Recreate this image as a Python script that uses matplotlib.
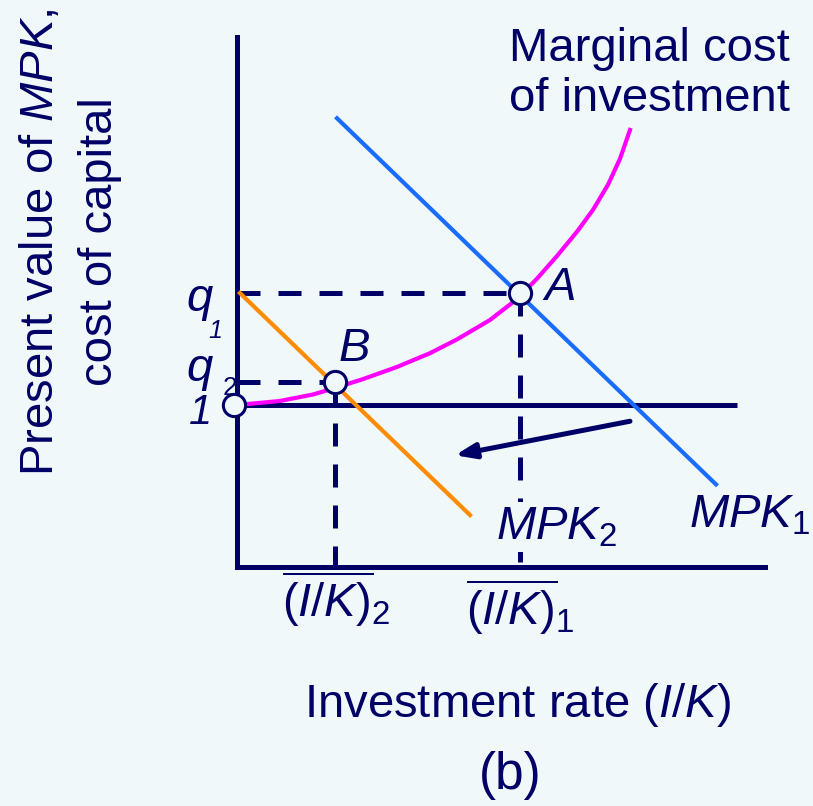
import matplotlib.pyplot as plt

plt.rcParams['font.family'] = ['Liberation Sans', 'DejaVu Sans']
plt.rcParams['mathtext.fontset'] = 'custom'
plt.rcParams['mathtext.rm'] = 'Liberation Sans'
plt.rcParams['mathtext.it'] = 'Liberation Sans:italic'

NAVY = '#000066'
BG = '#f0f8fa'

# data (investment rate I/K on x, value on y)
ik2, ik1 = 0.98, 2.83
q1, q2 = 1.69, 1.14
x_max, y_max = 5.28, 3.27
one_line_end = 5.0

mc_x = [0.0, 0.43, 0.76, 0.98, 1.26, 1.60, 1.93, 2.20, 2.53, 2.76, 2.84,
        3.00, 3.20, 3.40, 3.56, 3.71, 3.83, 3.93]
mc_y = [1.0, 1.025, 1.065, 1.105, 1.16, 1.235, 1.32, 1.405, 1.525, 1.635, 1.68,
        1.78, 1.92, 2.07, 2.205, 2.36, 2.52, 2.698]

mpk1_x = [1.00, 4.79]
mpk1_y = [2.77, 0.51]
mpk2_x = [0.03, 2.33]
mpk2_y = [1.691, 0.321]

shift_from = (3.93, 0.90)
shift_to = (2.18, 0.69)


def px(x, y):
    # pixel position on the 813x806 canvas -> data coords
    return ((x - 237) / 100, (567 - y) / 162)


fig = plt.figure(figsize=(8.13, 8.06), dpi=100, facecolor=BG)
ax = fig.add_axes([0, 0, 1, 1])
ax.set_facecolor(BG)
ax.set_xlim(-2.37, 5.76)
ax.set_ylim(-1.475, 3.5)
ax.axis('off')

# axes and the "1" line
ax.plot([0, 0], [0, y_max], color=NAVY, lw=3.6, solid_capstyle='projecting', zorder=2)
ax.plot([0, x_max], [0, 0], color=NAVY, lw=3.6, solid_capstyle='projecting', zorder=2)
ax.plot([0, one_line_end], [1, 1], color=NAVY, lw=3.6, solid_capstyle='butt', zorder=2)

# dashed guides
dash = dict(color=NAVY, lw=3.6, dashes=(4.6, 3.6), zorder=2)
ax.plot([0, ik1], [q1, q1], **dash)
ax.plot([ik1, ik1], [q1, 0], **dash)
ax.plot([0, ik2], [q2, q2], **dash)
ax.plot([ik2, ik2], [q2, 0], **dash)

# curves
ax.plot(mc_x, mc_y, color='#ff00ff', lw=3.0, solid_joinstyle='round', zorder=3)
ax.plot(mpk1_x, mpk1_y, color='#1a6cff', lw=3.0, zorder=4)
ax.plot(mpk2_x, mpk2_y, color='#ff8c00', lw=3.0, zorder=4)

# shift arrow
ax.annotate('', xy=shift_to, xytext=shift_from,
            arrowprops=dict(arrowstyle='-|>,head_length=1.2,head_width=0.45',
                            color=NAVY, lw=3.6, shrinkA=0, shrinkB=0),
            zorder=5)

# points
ax.plot([-0.03, ik2, ik1], [1, q2, q1], 'o', ms=16, mfc=BG, mec=NAVY, mew=2.2, zorder=6)

# labels
tk = dict(color=NAVY, fontsize=34)
ax.text(*px(649, 74), 'Marginal cost\nof investment', ha='center', va='center',
        linespacing=1.2, **tk)
ax.text(*px(41, 242), 'Present value of $MPK$,', rotation=90, ha='center', va='center', **tk)
ax.text(*px(100, 242), 'cost of capital', rotation=90, ha='center', va='center', **tk)
ax.text(*px(518, 705), 'Investment rate ($I/K$)', ha='center', va='center', **tk)
ax.text(*px(510, 775), '(b)', ha='center', va='center', color=NAVY, fontsize=37)

ax.text(*px(560, 288), 'A', ha='center', va='center', style='italic', **tk)
ax.text(*px(354, 349), 'B', ha='center', va='center', style='italic', **tk)

ax.text(*px(200, 311), 'q', ha='center', va='baseline', style='italic', **tk)
ax.text(*px(215, 338), '1', ha='center', va='baseline', style='italic', color=NAVY, fontsize=18)
ax.text(*px(200, 381), 'q', ha='center', va='baseline', style='italic', **tk)
ax.text(*px(230, 395), '2', ha='center', va='baseline', color=NAVY, fontsize=19)
ax.text(*px(200, 413), '1', ha='center', va='center', style='italic', color=NAVY, fontsize=30)

ax.text(*px(557, 527), '$MPK_2$', ha='center', va='center', zorder=7,
        bbox=dict(facecolor=BG, edgecolor='none', pad=2), **tk)
ax.text(*px(750, 515), '$MPK_1$', ha='center', va='center', **tk)

ax.text(*px(336, 600), r'$\overline{(I/K)}_2$', ha='center', va='center', **tk)
ax.text(*px(520, 608), r'$\overline{(I/K)}_1$', ha='center', va='center', **tk)

fig.savefig('out.png', dpi=100, facecolor=BG)
